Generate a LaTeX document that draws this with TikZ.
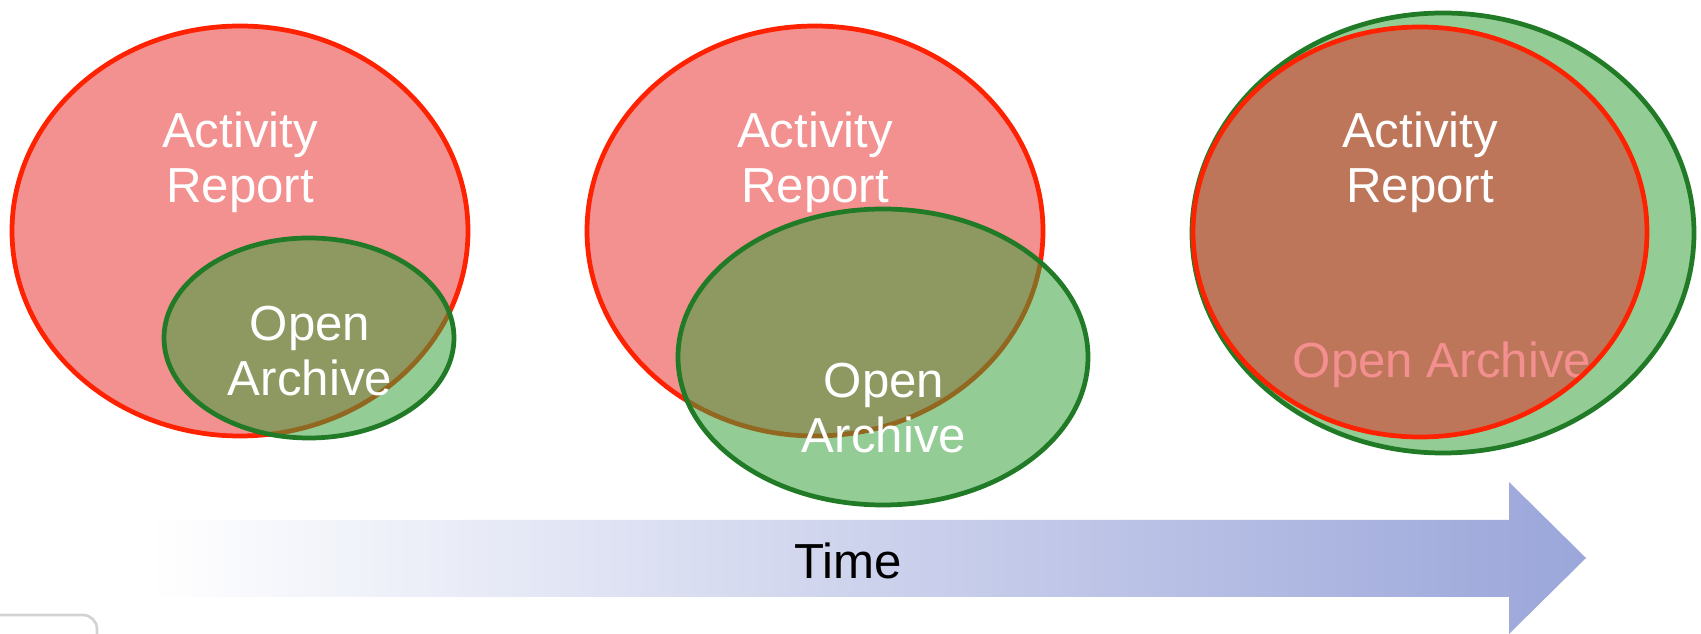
\documentclass[tikz,border=0pt]{standalone}
\usepackage{fontspec}
\setmainfont{Liberation Sans}
\usepackage{tikz}
\usetikzlibrary{positioning}
\definecolor{reportred}{RGB}{232,33,33}
\definecolor{reportline}{RGB}{255,34,0}
\definecolor{archivegreen}{RGB}{55,162,59}
\definecolor{archiveline}{RGB}{33,122,38}
\definecolor{timeblue}{RGB}{155,166,218}
\tikzset{report/.style={draw=reportline, line width=2.7pt, fill=reportred, fill opacity=0.5}}
\tikzset{archive/.style={draw=archiveline, line width=2.7pt, fill=archivegreen, fill opacity=0.54}}
\tikzset{lbl/.style={text=white, align=center, inner sep=0pt, font=\fontsize{28}{31.3}\selectfont}}

\begin{document}
\begin{tikzpicture}[x=0.02cm, y=-0.02cm]
\useasboundingbox (0,0) rectangle (1701,634);
% first: small overlap
\draw [report] (240,231) ellipse [x radius=228, y radius=205];
\draw [archive] (309,338) ellipse [x radius=145, y radius=100];
\node[lbl] (act1) at (240,162) {Activity\\Report};
\node[lbl] (oa1) at (310,351) {Open\\Archive};
% second: larger overlap
\draw [report] (815,231) ellipse [x radius=228, y radius=205];
\draw [archive] (883,357) ellipse [x radius=205, y radius=148];
\node[lbl] (act2) at (815,162) {Activity\\Report};
\node[lbl] (oa2) at (884,408) {Open\\Archive};
% third: archive covers report
\draw [archive] (1443,233) ellipse [x radius=251, y radius=220];
\node[lbl] (oa3) at (1442,365) {Open Archive};
\draw [report] (1420,232) ellipse [x radius=227, y radius=205];
\node[lbl] (act3) at (1420,162) {Activity\\Report};
% time arrow
\shade [left color=white, right color=timeblue]
  (150,520) -- (1509,520) -- (1509,482) -- (1586,558) -- (1509,634) -- (1509,597) -- (150,597) -- cycle;
\node[lbl, text=black] (time) at (848,561) {Time};
%\draw [gray!40, line width=2pt, rounded corners=15] (0,615) -- (97,615) -- (97,640);
\draw [gray!35, line width=1.5pt, rounded corners=8] (0,615) -- (97,615) -- (97,634);
\end{tikzpicture}
\end{document}
